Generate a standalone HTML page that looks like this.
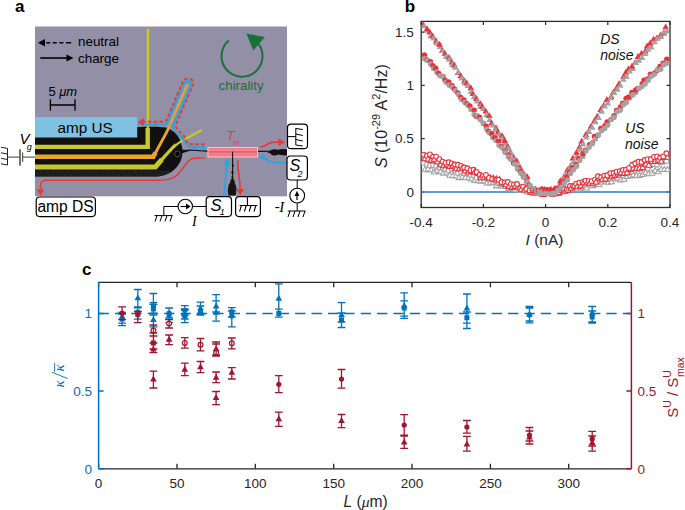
<!DOCTYPE html>
<html><head><meta charset="utf-8"><style>
html,body{margin:0;padding:0;background:#fff;}
svg{display:block;font-family:"Liberation Sans",sans-serif;}
</style></head><body>
<svg width="685" height="510" viewBox="0 0 685 510">
<text x="15" y="11.8" font-size="17" font-weight="bold">a</text>
<rect x="35" y="26.5" width="252" height="169.8" fill="#938fa6"/>
<clipPath id="mesa"><path d="M35,127 L137,127 C150,126.4 160,126.5 166,127.6 C172,129.5 177,134 179.5,139 C182,144 182.8,150 182.4,154 C181.8,160 179,165 175.5,168.5 C171,172.8 165,175.8 158,176.4 L35,176.5 Z"/></clipPath>
<path d="M35,127 L137,127 C150,126.4 160,126.5 166,127.6 C172,129.5 177,134 179.5,139 C182,144 182.8,150 182.4,154 C181.8,160 179,165 175.5,168.5 C171,172.8 165,175.8 158,176.4 L35,176.5 Z" fill="#101010"/>
<g clip-path="url(#mesa)"><rect x="35" y="170.6" width="150" height="6" fill="#1c1c1c"/><path d="M35,172 L170,172 M37,174.5 L170,174.5" stroke="#3c3c3c" stroke-width="0.7" stroke-dasharray="1.5,3.5,1,5"/></g>
<path d="M181,150.8 L190,150 L207,151.2 L258,151.4 L287,151" stroke="#111" stroke-width="1.2" fill="none"/>
<path d="M181,149.5 L191,150.6 L181,153.5 Z" fill="#111"/>
<circle cx="177.5" cy="153.9" r="2.9" fill="#050505" stroke="#555" stroke-width="0.9"/>
<ellipse cx="274.6" cy="152.3" rx="4.6" ry="3.1" fill="#111"/><path d="M267,152.2 L270,151.4 L270,153.2 Z" fill="#111"/><path d="M278.4,149.6 L283,149.1 L287,149.2 L287,155.4 L283,155.3 L278.4,154.8 Z" fill="#111"/>
<path d="M232.6,152 L232.6,185" stroke="#111" stroke-width="1.1" fill="none"/>
<path d="M228.4,195.6 L227.8,190 L228.6,185 L230.2,182.5 L230.6,180 L232.6,177.5 L234.4,180.5 L235.2,184 L236.4,187.5 L236.2,192 L235.6,195.6 Z" fill="#151515"/>
<circle cx="232.9" cy="165.7" r="1.1" fill="#111"/><circle cx="232.5" cy="172.5" r="1.2" fill="#111"/><circle cx="232.4" cy="177" r="1" fill="#111"/>
<path d="M147.9,28.8 L147.9,128" stroke="#cbc820" stroke-width="2.4" fill="none"/>
<path d="M35,146.9 L147.7,146.9 L147.7,128" stroke="#c9c82c" stroke-width="4.4" fill="none"/>
<path d="M187.4,84.4 L166.8,131.8 L154.3,155 L153.3,156.8 L35,156.8" stroke="#eba426" stroke-width="2.1" fill="none" stroke-linejoin="round"/>
<path d="M169,127 L166.8,131.8 L154.3,155" stroke="#eba426" stroke-width="2.8" fill="none" stroke-linejoin="round"/>
<path d="M155.5,152.5 L153.3,156.8 L35,156.8" stroke="#eba426" stroke-width="4.6" fill="none"/>
<path d="M201.6,130 L190,136.5 C182,140 176,144 168.8,151.8 L155.3,166.9 L35,166.9" stroke="#c7c72a" stroke-width="2.4" fill="none" stroke-linejoin="round"/>
<path d="M176,144.5 C173,147 171,149.3 168.8,151.8 L155.3,166.9" stroke="#c7c72a" stroke-width="3.2" fill="none"/>
<path d="M162,159.4 L155.3,166.9 L35,166.9" stroke="#c7c72a" stroke-width="5" fill="none"/>
<rect x="35" y="117" width="102.2" height="20.5" fill="#7fc1e3"/>
<text x="57.5" y="132.8" font-size="15.3">amp US</text>
<rect x="207.5" y="147" width="50.5" height="10.5" fill="#f8cacc"/>
<rect x="208.5" y="148" width="48.5" height="8.5" fill="#f1727e"/>
<path d="M208.5,149.3 L257,149.3 M208.5,150.6 L257,150.6 M208.5,153.3 L257,153.3 M208.5,155.2 L257,155.2" stroke="#f6a6ad" stroke-width="0.7" stroke-dasharray="1.2,0.8"/>
<path d="M208.5,151.9 L257,151.9" stroke="#c85a68" stroke-width="0.8"/>
<path d="M232.6,151.6 L232.6,158" stroke="#111" stroke-width="1"/>
<text x="226.4" y="139.8" font-size="13.5" font-style="italic" fill="#e53b35">T</text>
<text x="232.9" y="145" font-size="7.8" font-style="italic" fill="#e53b35">m</text>
<path d="M138.5,124.7 L164,124.7 C166,124.7 167,123.5 168,121.5 L183.5,84 C184.5,81 188,80.5 190,82 C191.5,83 191.5,84.5 191,86 L173.5,125 C172.5,127.5 173.5,129.5 176,132 L183,138.5 C185,141 185.5,144 188,146 C190,147.3 193,147.3 197,147.3 L202,147.3" stroke="#2ea3e0" stroke-width="2.2" fill="none"/>
<path d="M201,143.6 L206.6,147.3 L201,151 Z" fill="#2ea3e0"/>
<path d="M142,121.8 L164.5,121.8 C166,121.8 166.5,120.5 167,119 L182.8,81.5 C183.8,79 186.5,78.3 189.5,78.8 C192.5,79.5 193.8,81.5 193.3,84 L176,124.5 C175.3,126.5 176,128 178,130 L184,136 C186,138.5 186.2,142 188,143.5 C189.5,144.4 193,144.3 206,144.3" stroke="#e53b35" stroke-width="1.9" stroke-dasharray="3.6,2.2" fill="none"/>
<path d="M137.6,122 L144,118.3 L144,125.7 Z" fill="#e53b35"/>
<path d="M204.7,158 C196,158 192,158 189,160.5 C185,164 181,172 176,176 C172,179 168,180.2 160,180.2 L46,180.2 C42,180.2 40.5,182 40.5,186 L40.5,190" stroke="#e53b35" stroke-width="1.5" fill="none"/>
<path d="M36.8,189.5 L44.2,189.5 L40.5,196 Z" fill="#e53b35"/>
<path d="M224.4,195.5 C224.4,180 226.9,176 226.9,163" stroke="#2ea3e0" stroke-width="1.8" fill="none"/>
<path d="M223.2,164.5 L227,158.2 L230.8,164.5 Z" fill="#2ea3e0"/>
<path d="M237.8,160 C237.8,176 240.2,178 240.2,190" stroke="#e53b35" stroke-width="1.6" fill="none"/>
<path d="M236.1,189 L244.1,189 L240.1,195.6 Z" fill="#e53b35"/>
<path d="M260.2,147 C264,146.5 266,145.5 269,143.5 C271.5,142 274,142 279.5,142.2" stroke="#e53b35" stroke-width="1.6" fill="none"/>
<path d="M278.4,138.6 L285.2,142.2 L278.4,146.2 Z" fill="#e53b35"/>
<path d="M287,162.5 L274,162.5 C270,162.5 267,160 264,157.5" stroke="#2ea3e0" stroke-width="1.8" fill="none"/>
<path d="M258,157.2 L264.5,153.8 L264.5,160.6 Z" fill="#2ea3e0"/>
<path d="M38,42.7 L45,39 L45,46.4 Z" fill="#000"/>
<path d="M46.2,42.7 L71.2,42.7" stroke="#000" stroke-width="1.6" stroke-dasharray="4,2.6,4,2.6,4,2.6,5.2,9"/>
<path d="M40.3,58 L67,58" stroke="#000" stroke-width="1.6"/>
<path d="M66.5,54.4 L73.5,58 L66.5,61.6 Z" fill="#000"/>
<text x="78" y="46" font-size="13.4">neutral</text>
<text x="78" y="62.6" font-size="13.4">charge</text>
<text x="48.4" y="95.7" font-size="13">5 <tspan font-style="italic">μm</tspan></text>
<path d="M50.4,99.3 L50.4,110.7 M75,99.3 L75,110.7 M50.4,105 L75,105" stroke="#000" stroke-width="1.3" fill="none"/>
<path d="M228.8,40.5 A20.5,20.5 0 1 0 257,42.2" stroke="#177239" stroke-width="2" fill="none"/>
<path d="M246.4,33.6 L264.8,37 L253.3,50.6 Z" fill="#177239"/>
<text x="218.6" y="89.5" font-size="13.3" fill="#177239">chirality</text>
<path d="M7.5,157.1 L19.8,157.1 M22.6,157.1 L35,157.1" stroke="#666" stroke-width="1.2"/>
<path d="M20,149.2 L20,165.7" stroke="#666" stroke-width="1.8"/>
<path d="M22.6,152.4 L22.6,161.8" stroke="#555" stroke-width="1.2"/>
<path d="M7.5,148.4 L7.5,165 M7.5,148.4 L1,147.2 M7.5,154 L1,152.8 M7.5,159.5 L1,158.3 M7.5,165 L1,163.8" stroke="#222" stroke-width="1" fill="none"/>
<text x="19.6" y="144.1" font-size="15" font-style="italic">V</text>
<text x="26.8" y="149.5" font-size="9" font-style="italic">g</text>
<rect x="36.2" y="197" width="59.2" height="19.6" rx="3.5" fill="#fff" stroke="#000" stroke-width="1.2"/>
<text x="37.4" y="212" font-size="15.6">amp DS</text>
<path d="M192.5,206.5 L206.2,206.5 M178,206.5 L163.8,206.5 L163.8,215.6 M154.5,215.6 L172.5,215.6" stroke="#000" stroke-width="1" fill="none"/>
<path d="M157,215.6 L155,221.5 M162,215.6 L160,221.5 M167,215.6 L165,221.5 M172,215.6 L170,221.5" stroke="#000" stroke-width="1" fill="none"/>
<circle cx="185.3" cy="206.5" r="7.2" fill="#fff" stroke="#000" stroke-width="1.1"/>
<path d="M180.5,206.5 L187,206.5" stroke="#000" stroke-width="1.1"/><path d="M186,203.6 L190.6,206.5 L186,209.4 Z" fill="#000"/>
<text x="192" y="225.6" font-size="14" font-style="italic" font-family="Liberation Serif">I</text>
<rect x="206.2" y="196.6" width="25.3" height="20" rx="3.5" fill="#fff" stroke="#000" stroke-width="1.2"/>
<text x="210.4" y="210.5" font-size="16.5" font-style="italic">S</text>
<text x="219.8" y="214.6" font-size="9" font-style="italic">1</text>
<rect x="235.6" y="196.6" width="24.8" height="20" rx="3.5" fill="#fff" stroke="#000" stroke-width="1.2"/>
<path d="M247.4,196.6 L247.4,205.5 M239.6,205.5 L257.4,205.5 M241.4,205.5 L239.6,211.6 M246.2,205.5 L244.4,211.6 M251,205.5 L249.2,211.6 M255.8,205.5 L254,211.6" stroke="#000" stroke-width="1.1" fill="none"/>
<rect x="287.5" y="124.2" width="20" height="24.5" rx="3.5" fill="#fff" stroke="#000" stroke-width="1.2"/>
<path d="M287.5,136.6 L295.8,136.6 M295.8,128.3 L295.8,145 M295.8,128.5 L302.8,129.5 M295.8,134 L302.8,135.5 M295.8,139.5 L302.8,141 M295.8,145 L302.8,146" stroke="#000" stroke-width="1" fill="none"/>
<rect x="287" y="156" width="20.4" height="24" rx="3.5" fill="#fff" stroke="#000" stroke-width="1.2"/>
<text x="289.4" y="171.1" font-size="16.2" font-style="italic">S</text>
<text x="297.4" y="176.8" font-size="9" font-style="italic">2</text>
<path d="M297.2,180 L297.2,188 M297.2,203.2 L297.2,211 M287.7,211 L305.6,211" stroke="#000" stroke-width="1" fill="none"/>
<path d="M290,211 L288,217 M295,211 L293,217 M300,211 L298,217 M305,211 L303,217" stroke="#000" stroke-width="1" fill="none"/>
<circle cx="297.2" cy="195.6" r="7.4" fill="#fff" stroke="#000" stroke-width="1.1"/>
<path d="M297,200 L297,195" stroke="#000" stroke-width="1.2"/><path d="M294.6,196 L297,190.8 L299.4,196 Z" fill="#000"/>
<text x="274.8" y="211.8" font-size="15" font-family="Liberation Serif"><tspan dy="-1.2">-</tspan><tspan dy="1.2" dx="-0.5" font-style="italic">I</tspan></text>
<text x="404.7" y="11.8" font-size="17" font-weight="bold">b</text>
<rect x="421.2" y="21.4" width="248.8" height="186.1" fill="none" stroke="#2b2b2b" stroke-width="1.3"/>
<path d="M421.2,207.5 L421.2,204.0 M421.2,21.4 L421.2,24.9 M483.4,207.5 L483.4,204.0 M483.4,21.4 L483.4,24.9 M545.6,207.5 L545.6,204.0 M545.6,21.4 L545.6,24.9 M607.8,207.5 L607.8,204.0 M607.8,21.4 L607.8,24.9 M670.0,207.5 L670.0,204.0 M670.0,21.4 L670.0,24.9 M421.2,192.0 L424.7,192.0 M670.0,192.0 L666.5,192.0 M421.2,138.7 L424.7,138.7 M670.0,138.7 L666.5,138.7 M421.2,85.4 L424.7,85.4 M670.0,85.4 L666.5,85.4 M421.2,32.1 L424.7,32.1 M670.0,32.1 L666.5,32.1" stroke="#2b2b2b" stroke-width="1.2" fill="none"/>
<path d="M421.2,192 L670.0,192" stroke="#3672c4" stroke-width="1.5"/>
<defs><path id="tf" d="M0,-3.6 L3.3,2.3 L-3.3,2.3 Z"/><circle id="cf" r="2.7"/><path id="to" d="M0,-3.1 L2.9,2 L-2.9,2 Z"/><circle id="co" r="2.4"/></defs>
<clipPath id="bclip"><rect x="421.2" y="21.4" width="248.8" height="186.1"/></clipPath><g clip-path="url(#bclip)">
<g fill="#fff" stroke="#a3a3a3" stroke-width="1.1"><use href="#to" x="424.9" y="169.7"/><use href="#co" x="423.8" y="162.9"/><use href="#co" x="426.9" y="164.6"/><use href="#to" x="428.0" y="169.1"/><use href="#co" x="430.0" y="165.5"/><use href="#to" x="431.1" y="169.9"/><use href="#co" x="433.1" y="165.1"/><use href="#to" x="434.2" y="172.0"/><use href="#co" x="436.2" y="166.0"/><use href="#to" x="437.4" y="170.3"/><use href="#to" x="440.5" y="171.6"/><use href="#co" x="439.4" y="167.5"/><use href="#to" x="443.6" y="173.1"/><use href="#co" x="442.5" y="167.2"/><use href="#co" x="445.6" y="169.7"/><use href="#to" x="446.7" y="172.3"/><use href="#co" x="448.7" y="170.3"/><use href="#to" x="449.8" y="175.3"/><use href="#to" x="452.9" y="175.8"/><use href="#co" x="451.8" y="169.0"/><use href="#to" x="456.0" y="175.9"/><use href="#co" x="454.9" y="170.4"/><use href="#co" x="458.0" y="173.1"/><use href="#to" x="459.1" y="177.6"/><use href="#co" x="461.1" y="171.9"/><use href="#to" x="462.2" y="177.1"/><use href="#co" x="464.2" y="173.1"/><use href="#to" x="465.3" y="177.8"/><use href="#co" x="467.4" y="173.2"/><use href="#to" x="468.5" y="177.7"/><use href="#to" x="471.6" y="178.9"/><use href="#co" x="470.5" y="174.8"/><use href="#to" x="474.7" y="180.4"/><use href="#co" x="473.6" y="175.1"/><use href="#to" x="477.8" y="180.6"/><use href="#co" x="476.7" y="177.9"/><use href="#co" x="479.8" y="178.6"/><use href="#to" x="480.9" y="181.1"/><use href="#to" x="484.0" y="180.9"/><use href="#co" x="482.9" y="177.8"/><use href="#to" x="487.1" y="183.0"/><use href="#co" x="486.0" y="178.0"/><use href="#co" x="489.1" y="179.7"/><use href="#to" x="490.2" y="182.9"/><use href="#co" x="492.2" y="179.8"/><use href="#to" x="493.3" y="182.4"/><use href="#to" x="496.4" y="185.9"/><use href="#co" x="495.3" y="181.1"/><use href="#to" x="499.6" y="183.6"/><use href="#co" x="498.5" y="182.0"/><use href="#to" x="502.7" y="186.2"/><use href="#co" x="501.6" y="184.0"/><use href="#co" x="504.7" y="185.6"/><use href="#to" x="505.8" y="186.6"/><use href="#to" x="508.9" y="188.6"/><use href="#co" x="507.8" y="186.1"/><use href="#co" x="510.9" y="186.9"/><use href="#to" x="512.0" y="188.6"/><use href="#co" x="514.0" y="185.3"/><use href="#to" x="515.1" y="189.8"/><use href="#to" x="518.2" y="187.9"/><use href="#co" x="517.1" y="187.1"/><use href="#co" x="520.2" y="186.8"/><use href="#to" x="521.3" y="190.4"/><use href="#to" x="524.4" y="189.1"/><use href="#co" x="523.3" y="189.2"/><use href="#co" x="526.4" y="190.6"/><use href="#to" x="527.5" y="191.9"/><use href="#to" x="530.7" y="191.5"/><use href="#co" x="529.6" y="191.0"/><use href="#co" x="532.7" y="191.5"/><use href="#to" x="533.8" y="193.5"/><use href="#to" x="536.9" y="192.1"/><use href="#co" x="535.8" y="191.6"/><use href="#to" x="540.0" y="192.7"/><use href="#co" x="538.9" y="191.0"/><use href="#to" x="543.1" y="194.3"/><use href="#co" x="542.0" y="191.3"/><use href="#to" x="546.2" y="191.8"/><use href="#co" x="545.1" y="191.1"/><use href="#co" x="548.2" y="192.3"/><use href="#to" x="549.3" y="193.2"/><use href="#co" x="551.3" y="191.2"/><use href="#to" x="552.4" y="194.1"/><use href="#co" x="554.4" y="192.2"/><use href="#to" x="555.5" y="193.4"/><use href="#co" x="557.5" y="192.1"/><use href="#to" x="558.6" y="193.5"/><use href="#co" x="560.6" y="191.4"/><use href="#to" x="561.8" y="191.9"/><use href="#co" x="563.8" y="188.2"/><use href="#to" x="564.9" y="190.5"/><use href="#co" x="566.9" y="189.5"/><use href="#to" x="568.0" y="190.8"/><use href="#to" x="571.1" y="188.6"/><use href="#co" x="570.0" y="189.2"/><use href="#co" x="573.1" y="187.4"/><use href="#to" x="574.2" y="189.1"/><use href="#co" x="576.2" y="187.8"/><use href="#to" x="577.3" y="189.0"/><use href="#co" x="579.3" y="184.7"/><use href="#to" x="580.4" y="188.9"/><use href="#co" x="582.4" y="183.5"/><use href="#to" x="583.5" y="187.1"/><use href="#to" x="586.6" y="188.0"/><use href="#co" x="585.5" y="184.0"/><use href="#to" x="589.7" y="184.7"/><use href="#co" x="588.6" y="181.8"/><use href="#co" x="591.8" y="183.2"/><use href="#to" x="592.9" y="185.6"/><use href="#to" x="596.0" y="184.4"/><use href="#co" x="594.9" y="180.8"/><use href="#to" x="599.1" y="184.7"/><use href="#co" x="598.0" y="181.4"/><use href="#to" x="602.2" y="182.0"/><use href="#co" x="601.1" y="178.5"/><use href="#co" x="604.2" y="178.2"/><use href="#to" x="605.3" y="181.7"/><use href="#co" x="607.3" y="178.3"/><use href="#to" x="608.4" y="182.2"/><use href="#co" x="610.4" y="179.0"/><use href="#to" x="611.5" y="181.8"/><use href="#co" x="613.5" y="176.1"/><use href="#to" x="614.6" y="178.9"/><use href="#to" x="617.7" y="178.1"/><use href="#co" x="616.6" y="174.5"/><use href="#co" x="619.7" y="175.4"/><use href="#to" x="620.8" y="179.9"/><use href="#to" x="624.0" y="179.2"/><use href="#co" x="622.9" y="175.1"/><use href="#co" x="626.0" y="172.1"/><use href="#to" x="627.1" y="176.5"/><use href="#co" x="629.1" y="172.0"/><use href="#to" x="630.2" y="175.9"/><use href="#to" x="633.3" y="174.9"/><use href="#co" x="632.2" y="171.1"/><use href="#co" x="635.3" y="170.0"/><use href="#to" x="636.4" y="175.6"/><use href="#to" x="639.5" y="175.4"/><use href="#co" x="638.4" y="169.0"/><use href="#co" x="641.5" y="167.6"/><use href="#to" x="642.6" y="174.5"/><use href="#co" x="644.6" y="166.9"/><use href="#to" x="645.7" y="172.7"/><use href="#to" x="648.8" y="173.8"/><use href="#co" x="647.7" y="168.6"/><use href="#to" x="651.9" y="173.2"/><use href="#co" x="650.8" y="165.6"/><use href="#co" x="654.0" y="164.2"/><use href="#to" x="655.1" y="170.8"/><use href="#co" x="657.1" y="164.7"/><use href="#to" x="658.2" y="171.8"/><use href="#to" x="661.3" y="169.5"/><use href="#co" x="660.2" y="162.5"/><use href="#to" x="664.4" y="169.5"/><use href="#co" x="663.3" y="161.8"/><use href="#co" x="666.4" y="161.3"/><use href="#to" x="667.5" y="169.5"/></g>
<g fill="#fff" stroke="#e8333b" stroke-width="1.1"><use href="#to" x="424.9" y="158.8"/><use href="#co" x="423.8" y="154.6"/><use href="#co" x="426.9" y="155.8"/><use href="#to" x="428.0" y="159.1"/><use href="#co" x="430.0" y="154.4"/><use href="#to" x="431.1" y="160.4"/><use href="#co" x="433.1" y="156.8"/><use href="#to" x="434.2" y="159.3"/><use href="#to" x="437.4" y="161.8"/><use href="#co" x="436.2" y="156.6"/><use href="#co" x="439.4" y="159.2"/><use href="#to" x="440.5" y="164.7"/><use href="#to" x="443.6" y="165.7"/><use href="#co" x="442.5" y="161.6"/><use href="#to" x="446.7" y="164.9"/><use href="#co" x="445.6" y="162.7"/><use href="#to" x="449.8" y="166.5"/><use href="#co" x="448.7" y="162.3"/><use href="#co" x="451.8" y="163.4"/><use href="#to" x="452.9" y="165.7"/><use href="#co" x="454.9" y="164.5"/><use href="#to" x="456.0" y="168.8"/><use href="#to" x="459.1" y="168.8"/><use href="#co" x="458.0" y="164.8"/><use href="#co" x="461.1" y="165.9"/><use href="#to" x="462.2" y="168.3"/><use href="#to" x="465.3" y="170.8"/><use href="#co" x="464.2" y="167.5"/><use href="#to" x="468.5" y="172.0"/><use href="#co" x="467.4" y="168.3"/><use href="#to" x="471.6" y="171.1"/><use href="#co" x="470.5" y="170.2"/><use href="#co" x="473.6" y="169.8"/><use href="#to" x="474.7" y="172.1"/><use href="#to" x="477.8" y="173.1"/><use href="#co" x="476.7" y="172.1"/><use href="#co" x="479.8" y="174.8"/><use href="#to" x="480.9" y="177.3"/><use href="#co" x="482.9" y="176.1"/><use href="#to" x="484.0" y="177.8"/><use href="#to" x="487.1" y="176.7"/><use href="#co" x="486.0" y="174.9"/><use href="#to" x="490.2" y="177.9"/><use href="#co" x="489.1" y="177.9"/><use href="#to" x="493.3" y="178.3"/><use href="#co" x="492.2" y="179.0"/><use href="#co" x="495.3" y="179.8"/><use href="#to" x="496.4" y="179.0"/><use href="#to" x="499.6" y="179.8"/><use href="#co" x="498.5" y="179.8"/><use href="#to" x="502.7" y="182.9"/><use href="#co" x="501.6" y="182.1"/><use href="#co" x="504.7" y="182.5"/><use href="#to" x="505.8" y="184.8"/><use href="#to" x="508.9" y="186.4"/><use href="#co" x="507.8" y="182.0"/><use href="#co" x="510.9" y="184.1"/><use href="#to" x="512.0" y="187.4"/><use href="#co" x="514.0" y="184.4"/><use href="#to" x="515.1" y="186.4"/><use href="#to" x="518.2" y="186.3"/><use href="#co" x="517.1" y="184.0"/><use href="#co" x="520.2" y="188.4"/><use href="#to" x="521.3" y="189.2"/><use href="#co" x="523.3" y="186.7"/><use href="#to" x="524.4" y="190.0"/><use href="#to" x="527.5" y="188.4"/><use href="#co" x="526.4" y="189.0"/><use href="#to" x="530.7" y="192.1"/><use href="#co" x="529.6" y="190.5"/><use href="#co" x="532.7" y="190.1"/><use href="#to" x="533.8" y="190.7"/><use href="#co" x="535.8" y="192.7"/><use href="#to" x="536.9" y="191.4"/><use href="#to" x="540.0" y="190.9"/><use href="#co" x="538.9" y="193.2"/><use href="#to" x="543.1" y="194.5"/><use href="#co" x="542.0" y="190.7"/><use href="#co" x="545.1" y="193.7"/><use href="#to" x="546.2" y="191.6"/><use href="#to" x="549.3" y="192.7"/><use href="#co" x="548.2" y="192.5"/><use href="#to" x="552.4" y="194.0"/><use href="#co" x="551.3" y="192.4"/><use href="#co" x="554.4" y="192.0"/><use href="#to" x="555.5" y="193.6"/><use href="#co" x="557.5" y="192.1"/><use href="#to" x="558.6" y="192.6"/><use href="#co" x="560.6" y="190.3"/><use href="#to" x="561.8" y="189.7"/><use href="#co" x="563.8" y="188.7"/><use href="#to" x="564.9" y="191.2"/><use href="#co" x="566.9" y="189.7"/><use href="#to" x="568.0" y="190.1"/><use href="#co" x="570.0" y="186.0"/><use href="#to" x="571.1" y="188.1"/><use href="#co" x="573.1" y="186.0"/><use href="#to" x="574.2" y="185.7"/><use href="#co" x="576.2" y="183.7"/><use href="#to" x="577.3" y="186.7"/><use href="#to" x="580.4" y="185.9"/><use href="#co" x="579.3" y="182.6"/><use href="#co" x="582.4" y="182.1"/><use href="#to" x="583.5" y="182.7"/><use href="#to" x="586.6" y="182.8"/><use href="#co" x="585.5" y="180.6"/><use href="#co" x="588.6" y="181.2"/><use href="#to" x="589.7" y="183.2"/><use href="#to" x="592.9" y="183.3"/><use href="#co" x="591.8" y="181.2"/><use href="#co" x="594.9" y="179.6"/><use href="#to" x="596.0" y="182.0"/><use href="#to" x="599.1" y="178.3"/><use href="#co" x="598.0" y="176.3"/><use href="#co" x="601.1" y="177.4"/><use href="#to" x="602.2" y="179.8"/><use href="#co" x="604.2" y="175.7"/><use href="#to" x="605.3" y="179.1"/><use href="#to" x="608.4" y="175.0"/><use href="#co" x="607.3" y="175.3"/><use href="#to" x="611.5" y="176.8"/><use href="#co" x="610.4" y="173.2"/><use href="#co" x="613.5" y="173.0"/><use href="#to" x="614.6" y="175.4"/><use href="#to" x="617.7" y="173.9"/><use href="#co" x="616.6" y="171.7"/><use href="#co" x="619.7" y="171.3"/><use href="#to" x="620.8" y="172.8"/><use href="#co" x="622.9" y="170.0"/><use href="#to" x="624.0" y="173.4"/><use href="#co" x="626.0" y="169.7"/><use href="#to" x="627.1" y="172.7"/><use href="#to" x="630.2" y="169.5"/><use href="#co" x="629.1" y="167.9"/><use href="#to" x="633.3" y="168.2"/><use href="#co" x="632.2" y="164.8"/><use href="#co" x="635.3" y="163.3"/><use href="#to" x="636.4" y="168.3"/><use href="#to" x="639.5" y="168.2"/><use href="#co" x="638.4" y="161.8"/><use href="#to" x="642.6" y="167.6"/><use href="#co" x="641.5" y="162.0"/><use href="#to" x="645.7" y="164.3"/><use href="#co" x="644.6" y="160.0"/><use href="#to" x="648.8" y="165.2"/><use href="#co" x="647.7" y="159.2"/><use href="#to" x="651.9" y="161.5"/><use href="#co" x="650.8" y="159.3"/><use href="#to" x="655.1" y="161.5"/><use href="#co" x="654.0" y="156.9"/><use href="#co" x="657.1" y="156.4"/><use href="#to" x="658.2" y="160.1"/><use href="#co" x="660.2" y="157.8"/><use href="#to" x="661.3" y="161.2"/><use href="#to" x="664.4" y="157.5"/><use href="#co" x="663.3" y="156.4"/><use href="#to" x="667.5" y="157.3"/><use href="#co" x="666.4" y="153.3"/></g>
<use href="#tf" x="423.1" y="24.9" fill="#e8333b"/><use href="#tf" x="424.3" y="26.0" fill="#a3a3a3"/><use href="#tf" x="427.4" y="30.4" fill="#a3a3a3"/><use href="#tf" x="427.0" y="28.9" fill="#e8333b"/><use href="#tf" x="429.7" y="32.1" fill="#e8333b"/><use href="#tf" x="430.5" y="36.0" fill="#a3a3a3"/><use href="#tf" x="432.7" y="36.2" fill="#e8333b"/><use href="#tf" x="433.6" y="38.3" fill="#a3a3a3"/><use href="#tf" x="436.1" y="41.2" fill="#e8333b"/><use href="#tf" x="436.8" y="43.1" fill="#a3a3a3"/><use href="#tf" x="439.9" y="46.8" fill="#a3a3a3"/><use href="#tf" x="439.6" y="44.4" fill="#e8333b"/><use href="#tf" x="442.2" y="50.7" fill="#e8333b"/><use href="#tf" x="443.0" y="50.8" fill="#a3a3a3"/><use href="#tf" x="444.9" y="53.5" fill="#e8333b"/><use href="#tf" x="446.1" y="56.8" fill="#a3a3a3"/><use href="#tf" x="449.0" y="57.5" fill="#e8333b"/><use href="#tf" x="449.2" y="59.5" fill="#a3a3a3"/><use href="#tf" x="451.8" y="62.3" fill="#e8333b"/><use href="#tf" x="452.3" y="64.4" fill="#a3a3a3"/><use href="#tf" x="454.5" y="65.4" fill="#e8333b"/><use href="#tf" x="455.4" y="67.4" fill="#a3a3a3"/><use href="#tf" x="458.0" y="72.8" fill="#e8333b"/><use href="#tf" x="458.5" y="72.2" fill="#a3a3a3"/><use href="#tf" x="460.8" y="75.8" fill="#e8333b"/><use href="#tf" x="461.6" y="78.3" fill="#a3a3a3"/><use href="#tf" x="464.4" y="81.1" fill="#e8333b"/><use href="#tf" x="464.7" y="82.9" fill="#a3a3a3"/><use href="#tf" x="466.8" y="83.1" fill="#e8333b"/><use href="#tf" x="467.9" y="85.7" fill="#a3a3a3"/><use href="#tf" x="470.8" y="87.9" fill="#e8333b"/><use href="#tf" x="471.0" y="91.8" fill="#a3a3a3"/><use href="#tf" x="472.9" y="93.8" fill="#e8333b"/><use href="#tf" x="474.1" y="97.0" fill="#a3a3a3"/><use href="#tf" x="476.4" y="98.6" fill="#e8333b"/><use href="#tf" x="477.2" y="101.3" fill="#a3a3a3"/><use href="#tf" x="480.4" y="103.8" fill="#e8333b"/><use href="#tf" x="480.3" y="106.4" fill="#a3a3a3"/><use href="#tf" x="482.4" y="106.7" fill="#e8333b"/><use href="#tf" x="483.4" y="108.6" fill="#a3a3a3"/><use href="#tf" x="485.7" y="111.3" fill="#e8333b"/><use href="#tf" x="486.5" y="114.9" fill="#a3a3a3"/><use href="#tf" x="489.3" y="115.8" fill="#e8333b"/><use href="#tf" x="489.6" y="119.7" fill="#a3a3a3"/><use href="#tf" x="491.6" y="123.1" fill="#e8333b"/><use href="#tf" x="492.7" y="125.3" fill="#a3a3a3"/><use href="#tf" x="496.0" y="128.0" fill="#e8333b"/><use href="#tf" x="495.8" y="129.8" fill="#a3a3a3"/><use href="#tf" x="498.0" y="132.1" fill="#e8333b"/><use href="#tf" x="499.0" y="134.4" fill="#a3a3a3"/><use href="#tf" x="502.1" y="135.8" fill="#e8333b"/><use href="#tf" x="502.1" y="138.7" fill="#a3a3a3"/><use href="#tf" x="505.2" y="143.5" fill="#a3a3a3"/><use href="#tf" x="504.8" y="140.7" fill="#e8333b"/><use href="#tf" x="507.8" y="146.4" fill="#e8333b"/><use href="#tf" x="508.3" y="148.4" fill="#a3a3a3"/><use href="#tf" x="510.3" y="153.0" fill="#e8333b"/><use href="#tf" x="511.4" y="153.1" fill="#a3a3a3"/><use href="#tf" x="513.8" y="157.5" fill="#e8333b"/><use href="#tf" x="514.5" y="159.9" fill="#a3a3a3"/><use href="#tf" x="516.8" y="161.0" fill="#e8333b"/><use href="#tf" x="517.6" y="164.1" fill="#a3a3a3"/><use href="#tf" x="520.1" y="167.6" fill="#e8333b"/><use href="#tf" x="520.7" y="170.6" fill="#a3a3a3"/><use href="#tf" x="524.0" y="174.0" fill="#e8333b"/><use href="#tf" x="523.8" y="174.9" fill="#a3a3a3"/><use href="#tf" x="527.2" y="176.8" fill="#e8333b"/><use href="#tf" x="526.9" y="180.3" fill="#a3a3a3"/><use href="#tf" x="529.0" y="184.4" fill="#e8333b"/><use href="#tf" x="530.1" y="185.7" fill="#a3a3a3"/><use href="#tf" x="532.3" y="188.8" fill="#e8333b"/><use href="#tf" x="533.2" y="189.6" fill="#a3a3a3"/><use href="#tf" x="535.7" y="189.2" fill="#e8333b"/><use href="#tf" x="536.3" y="192.1" fill="#a3a3a3"/><use href="#tf" x="538.7" y="190.9" fill="#e8333b"/><use href="#tf" x="539.4" y="193.6" fill="#a3a3a3"/><use href="#tf" x="541.5" y="189.1" fill="#e8333b"/><use href="#tf" x="542.5" y="192.6" fill="#a3a3a3"/><use href="#tf" x="544.7" y="189.6" fill="#e8333b"/><use href="#tf" x="545.6" y="193.3" fill="#a3a3a3"/><use href="#tf" x="548.2" y="191.1" fill="#e8333b"/><use href="#tf" x="548.7" y="191.4" fill="#a3a3a3"/><use href="#tf" x="550.7" y="189.3" fill="#e8333b"/><use href="#tf" x="551.8" y="193.7" fill="#a3a3a3"/><use href="#tf" x="554.9" y="191.8" fill="#a3a3a3"/><use href="#tf" x="554.4" y="188.8" fill="#e8333b"/><use href="#tf" x="558.2" y="188.3" fill="#e8333b"/><use href="#tf" x="558.0" y="188.9" fill="#a3a3a3"/><use href="#tf" x="560.3" y="180.9" fill="#e8333b"/><use href="#tf" x="561.1" y="185.5" fill="#a3a3a3"/><use href="#tf" x="564.1" y="176.5" fill="#e8333b"/><use href="#tf" x="564.3" y="177.3" fill="#a3a3a3"/><use href="#tf" x="567.3" y="170.1" fill="#e8333b"/><use href="#tf" x="567.4" y="172.6" fill="#a3a3a3"/><use href="#tf" x="570.5" y="166.2" fill="#e8333b"/><use href="#tf" x="570.5" y="167.2" fill="#a3a3a3"/><use href="#tf" x="572.8" y="158.3" fill="#e8333b"/><use href="#tf" x="573.6" y="161.7" fill="#a3a3a3"/><use href="#tf" x="576.7" y="155.9" fill="#a3a3a3"/><use href="#tf" x="576.5" y="152.5" fill="#e8333b"/><use href="#tf" x="579.5" y="147.2" fill="#e8333b"/><use href="#tf" x="579.8" y="149.5" fill="#a3a3a3"/><use href="#tf" x="581.7" y="141.4" fill="#e8333b"/><use href="#tf" x="582.9" y="144.2" fill="#a3a3a3"/><use href="#tf" x="585.8" y="134.7" fill="#e8333b"/><use href="#tf" x="586.0" y="137.1" fill="#a3a3a3"/><use href="#tf" x="588.3" y="131.8" fill="#e8333b"/><use href="#tf" x="589.1" y="131.5" fill="#a3a3a3"/><use href="#tf" x="591.1" y="126.3" fill="#e8333b"/><use href="#tf" x="592.2" y="127.5" fill="#a3a3a3"/><use href="#tf" x="594.5" y="120.7" fill="#e8333b"/><use href="#tf" x="595.4" y="121.9" fill="#a3a3a3"/><use href="#tf" x="597.3" y="116.3" fill="#e8333b"/><use href="#tf" x="598.5" y="117.6" fill="#a3a3a3"/><use href="#tf" x="600.7" y="109.7" fill="#e8333b"/><use href="#tf" x="601.6" y="111.4" fill="#a3a3a3"/><use href="#tf" x="603.8" y="105.4" fill="#e8333b"/><use href="#tf" x="604.7" y="106.1" fill="#a3a3a3"/><use href="#tf" x="606.9" y="99.6" fill="#e8333b"/><use href="#tf" x="607.8" y="103.3" fill="#a3a3a3"/><use href="#tf" x="611.1" y="96.7" fill="#e8333b"/><use href="#tf" x="610.9" y="97.9" fill="#a3a3a3"/><use href="#tf" x="613.4" y="92.3" fill="#e8333b"/><use href="#tf" x="614.0" y="92.8" fill="#a3a3a3"/><use href="#tf" x="616.5" y="88.1" fill="#e8333b"/><use href="#tf" x="617.1" y="89.5" fill="#a3a3a3"/><use href="#tf" x="619.1" y="83.7" fill="#e8333b"/><use href="#tf" x="620.2" y="85.5" fill="#a3a3a3"/><use href="#tf" x="623.5" y="76.8" fill="#e8333b"/><use href="#tf" x="623.4" y="79.5" fill="#a3a3a3"/><use href="#tf" x="625.8" y="72.5" fill="#e8333b"/><use href="#tf" x="626.5" y="76.7" fill="#a3a3a3"/><use href="#tf" x="628.4" y="69.1" fill="#e8333b"/><use href="#tf" x="629.6" y="71.3" fill="#a3a3a3"/><use href="#tf" x="632.7" y="68.7" fill="#a3a3a3"/><use href="#tf" x="632.0" y="66.3" fill="#e8333b"/><use href="#tf" x="635.1" y="62.8" fill="#e8333b"/><use href="#tf" x="635.8" y="62.7" fill="#a3a3a3"/><use href="#tf" x="638.0" y="56.6" fill="#e8333b"/><use href="#tf" x="638.9" y="60.5" fill="#a3a3a3"/><use href="#tf" x="641.5" y="53.4" fill="#e8333b"/><use href="#tf" x="642.0" y="57.6" fill="#a3a3a3"/><use href="#tf" x="645.3" y="51.3" fill="#e8333b"/><use href="#tf" x="645.1" y="53.6" fill="#a3a3a3"/><use href="#tf" x="647.1" y="46.1" fill="#e8333b"/><use href="#tf" x="648.2" y="49.5" fill="#a3a3a3"/><use href="#tf" x="651.3" y="47.1" fill="#a3a3a3"/><use href="#tf" x="650.2" y="43.1" fill="#e8333b"/><use href="#tf" x="653.6" y="39.3" fill="#e8333b"/><use href="#tf" x="654.5" y="42.0" fill="#a3a3a3"/><use href="#tf" x="656.8" y="38.1" fill="#e8333b"/><use href="#tf" x="657.6" y="38.2" fill="#a3a3a3"/><use href="#tf" x="660.5" y="35.2" fill="#e8333b"/><use href="#tf" x="660.7" y="36.8" fill="#a3a3a3"/><use href="#tf" x="663.7" y="33.1" fill="#e8333b"/><use href="#tf" x="663.8" y="32.2" fill="#a3a3a3"/><use href="#tf" x="665.7" y="27.0" fill="#e8333b"/><use href="#tf" x="666.9" y="31.1" fill="#a3a3a3"/><use href="#cf" x="424.5" y="55.0" fill="#e8333b"/><use href="#cf" x="424.3" y="58.7" fill="#a3a3a3"/><use href="#cf" x="427.0" y="59.9" fill="#e8333b"/><use href="#cf" x="427.4" y="60.4" fill="#a3a3a3"/><use href="#cf" x="430.4" y="61.8" fill="#e8333b"/><use href="#cf" x="430.5" y="63.9" fill="#a3a3a3"/><use href="#cf" x="432.9" y="65.7" fill="#e8333b"/><use href="#cf" x="433.6" y="68.4" fill="#a3a3a3"/><use href="#cf" x="435.7" y="68.3" fill="#e8333b"/><use href="#cf" x="436.8" y="72.0" fill="#a3a3a3"/><use href="#cf" x="438.8" y="73.4" fill="#e8333b"/><use href="#cf" x="439.9" y="75.7" fill="#a3a3a3"/><use href="#cf" x="443.2" y="76.5" fill="#e8333b"/><use href="#cf" x="443.0" y="76.8" fill="#a3a3a3"/><use href="#cf" x="445.0" y="80.1" fill="#e8333b"/><use href="#cf" x="446.1" y="82.2" fill="#a3a3a3"/><use href="#cf" x="448.7" y="81.9" fill="#e8333b"/><use href="#cf" x="449.2" y="85.3" fill="#a3a3a3"/><use href="#cf" x="452.1" y="85.7" fill="#e8333b"/><use href="#cf" x="452.3" y="87.3" fill="#a3a3a3"/><use href="#cf" x="454.4" y="89.0" fill="#e8333b"/><use href="#cf" x="455.4" y="90.6" fill="#a3a3a3"/><use href="#cf" x="457.9" y="92.9" fill="#e8333b"/><use href="#cf" x="458.5" y="94.4" fill="#a3a3a3"/><use href="#cf" x="460.8" y="97.5" fill="#e8333b"/><use href="#cf" x="461.6" y="99.5" fill="#a3a3a3"/><use href="#cf" x="464.0" y="100.0" fill="#e8333b"/><use href="#cf" x="464.7" y="102.4" fill="#a3a3a3"/><use href="#cf" x="467.0" y="103.8" fill="#e8333b"/><use href="#cf" x="467.9" y="104.9" fill="#a3a3a3"/><use href="#cf" x="469.9" y="105.9" fill="#e8333b"/><use href="#cf" x="471.0" y="109.5" fill="#a3a3a3"/><use href="#cf" x="474.2" y="110.1" fill="#e8333b"/><use href="#cf" x="474.1" y="114.4" fill="#a3a3a3"/><use href="#cf" x="476.3" y="116.3" fill="#e8333b"/><use href="#cf" x="477.2" y="115.6" fill="#a3a3a3"/><use href="#cf" x="479.6" y="117.3" fill="#e8333b"/><use href="#cf" x="480.3" y="119.7" fill="#a3a3a3"/><use href="#cf" x="483.4" y="123.4" fill="#e8333b"/><use href="#cf" x="483.4" y="123.3" fill="#a3a3a3"/><use href="#cf" x="486.2" y="126.1" fill="#e8333b"/><use href="#cf" x="486.5" y="129.1" fill="#a3a3a3"/><use href="#cf" x="488.7" y="131.5" fill="#e8333b"/><use href="#cf" x="489.6" y="132.9" fill="#a3a3a3"/><use href="#cf" x="491.8" y="133.7" fill="#e8333b"/><use href="#cf" x="492.7" y="137.4" fill="#a3a3a3"/><use href="#cf" x="494.9" y="137.6" fill="#e8333b"/><use href="#cf" x="495.8" y="140.6" fill="#a3a3a3"/><use href="#cf" x="498.6" y="141.2" fill="#e8333b"/><use href="#cf" x="499.0" y="145.3" fill="#a3a3a3"/><use href="#cf" x="501.7" y="146.6" fill="#e8333b"/><use href="#cf" x="502.1" y="147.8" fill="#a3a3a3"/><use href="#cf" x="505.0" y="151.5" fill="#e8333b"/><use href="#cf" x="505.2" y="152.5" fill="#a3a3a3"/><use href="#cf" x="508.5" y="155.1" fill="#e8333b"/><use href="#cf" x="508.3" y="156.8" fill="#a3a3a3"/><use href="#cf" x="510.8" y="159.1" fill="#e8333b"/><use href="#cf" x="511.4" y="159.5" fill="#a3a3a3"/><use href="#cf" x="513.6" y="163.3" fill="#e8333b"/><use href="#cf" x="514.5" y="164.1" fill="#a3a3a3"/><use href="#cf" x="517.8" y="168.7" fill="#e8333b"/><use href="#cf" x="517.6" y="169.1" fill="#a3a3a3"/><use href="#cf" x="520.8" y="171.6" fill="#e8333b"/><use href="#cf" x="520.7" y="173.2" fill="#a3a3a3"/><use href="#cf" x="523.5" y="177.1" fill="#e8333b"/><use href="#cf" x="523.8" y="177.0" fill="#a3a3a3"/><use href="#cf" x="526.7" y="181.1" fill="#e8333b"/><use href="#cf" x="526.9" y="182.0" fill="#a3a3a3"/><use href="#cf" x="529.3" y="185.1" fill="#e8333b"/><use href="#cf" x="530.1" y="185.7" fill="#a3a3a3"/><use href="#cf" x="532.7" y="188.9" fill="#e8333b"/><use href="#cf" x="533.2" y="188.7" fill="#a3a3a3"/><use href="#cf" x="535.3" y="190.8" fill="#e8333b"/><use href="#cf" x="536.3" y="190.5" fill="#a3a3a3"/><use href="#cf" x="538.3" y="190.4" fill="#e8333b"/><use href="#cf" x="539.4" y="191.1" fill="#a3a3a3"/><use href="#cf" x="542.2" y="189.2" fill="#e8333b"/><use href="#cf" x="542.5" y="191.6" fill="#a3a3a3"/><use href="#cf" x="544.7" y="189.8" fill="#e8333b"/><use href="#cf" x="545.6" y="192.9" fill="#a3a3a3"/><use href="#cf" x="547.8" y="189.6" fill="#e8333b"/><use href="#cf" x="548.7" y="193.3" fill="#a3a3a3"/><use href="#cf" x="551.2" y="190.5" fill="#e8333b"/><use href="#cf" x="551.8" y="193.4" fill="#a3a3a3"/><use href="#cf" x="555.1" y="189.4" fill="#e8333b"/><use href="#cf" x="554.9" y="193.3" fill="#a3a3a3"/><use href="#cf" x="556.9" y="188.1" fill="#e8333b"/><use href="#cf" x="558.0" y="189.9" fill="#a3a3a3"/><use href="#cf" x="560.8" y="185.2" fill="#e8333b"/><use href="#cf" x="561.1" y="187.1" fill="#a3a3a3"/><use href="#cf" x="563.9" y="181.5" fill="#e8333b"/><use href="#cf" x="564.3" y="183.3" fill="#a3a3a3"/><use href="#cf" x="566.8" y="176.9" fill="#e8333b"/><use href="#cf" x="567.4" y="179.9" fill="#a3a3a3"/><use href="#cf" x="569.6" y="172.2" fill="#e8333b"/><use href="#cf" x="570.5" y="173.4" fill="#a3a3a3"/><use href="#cf" x="572.7" y="167.8" fill="#e8333b"/><use href="#cf" x="573.6" y="169.7" fill="#a3a3a3"/><use href="#cf" x="576.1" y="164.5" fill="#e8333b"/><use href="#cf" x="576.7" y="166.2" fill="#a3a3a3"/><use href="#cf" x="578.7" y="158.8" fill="#e8333b"/><use href="#cf" x="579.8" y="160.4" fill="#a3a3a3"/><use href="#cf" x="582.9" y="156.4" fill="#a3a3a3"/><use href="#cf" x="582.9" y="153.7" fill="#e8333b"/><use href="#cf" x="585.4" y="150.2" fill="#e8333b"/><use href="#cf" x="586.0" y="150.9" fill="#a3a3a3"/><use href="#cf" x="589.4" y="144.8" fill="#e8333b"/><use href="#cf" x="589.1" y="147.3" fill="#a3a3a3"/><use href="#cf" x="592.5" y="142.9" fill="#e8333b"/><use href="#cf" x="592.2" y="143.8" fill="#a3a3a3"/><use href="#cf" x="594.4" y="136.4" fill="#e8333b"/><use href="#cf" x="595.4" y="138.9" fill="#a3a3a3"/><use href="#cf" x="597.8" y="135.2" fill="#e8333b"/><use href="#cf" x="598.5" y="135.0" fill="#a3a3a3"/><use href="#cf" x="600.8" y="128.4" fill="#e8333b"/><use href="#cf" x="601.6" y="130.8" fill="#a3a3a3"/><use href="#cf" x="604.9" y="125.8" fill="#e8333b"/><use href="#cf" x="604.7" y="128.5" fill="#a3a3a3"/><use href="#cf" x="607.1" y="122.0" fill="#e8333b"/><use href="#cf" x="607.8" y="125.1" fill="#a3a3a3"/><use href="#cf" x="611.1" y="119.4" fill="#e8333b"/><use href="#cf" x="610.9" y="119.6" fill="#a3a3a3"/><use href="#cf" x="614.0" y="115.6" fill="#e8333b"/><use href="#cf" x="614.0" y="117.4" fill="#a3a3a3"/><use href="#cf" x="616.5" y="110.4" fill="#e8333b"/><use href="#cf" x="617.1" y="111.7" fill="#a3a3a3"/><use href="#cf" x="620.4" y="107.0" fill="#e8333b"/><use href="#cf" x="620.2" y="110.2" fill="#a3a3a3"/><use href="#cf" x="622.7" y="103.2" fill="#e8333b"/><use href="#cf" x="623.4" y="104.8" fill="#a3a3a3"/><use href="#cf" x="626.1" y="98.5" fill="#e8333b"/><use href="#cf" x="626.5" y="102.5" fill="#a3a3a3"/><use href="#cf" x="629.6" y="98.0" fill="#a3a3a3"/><use href="#cf" x="628.6" y="97.0" fill="#e8333b"/><use href="#cf" x="631.9" y="92.4" fill="#e8333b"/><use href="#cf" x="632.7" y="95.0" fill="#a3a3a3"/><use href="#cf" x="635.8" y="92.5" fill="#a3a3a3"/><use href="#cf" x="635.6" y="89.9" fill="#e8333b"/><use href="#cf" x="637.9" y="88.5" fill="#e8333b"/><use href="#cf" x="638.9" y="88.5" fill="#a3a3a3"/><use href="#cf" x="642.2" y="83.7" fill="#e8333b"/><use href="#cf" x="642.0" y="86.6" fill="#a3a3a3"/><use href="#cf" x="644.0" y="80.1" fill="#e8333b"/><use href="#cf" x="645.1" y="83.9" fill="#a3a3a3"/><use href="#cf" x="647.6" y="78.9" fill="#e8333b"/><use href="#cf" x="648.2" y="80.2" fill="#a3a3a3"/><use href="#cf" x="650.4" y="74.3" fill="#e8333b"/><use href="#cf" x="651.3" y="76.2" fill="#a3a3a3"/><use href="#cf" x="654.7" y="73.0" fill="#e8333b"/><use href="#cf" x="654.5" y="74.3" fill="#a3a3a3"/><use href="#cf" x="657.3" y="70.2" fill="#e8333b"/><use href="#cf" x="657.6" y="69.8" fill="#a3a3a3"/><use href="#cf" x="659.9" y="66.4" fill="#e8333b"/><use href="#cf" x="660.7" y="69.3" fill="#a3a3a3"/><use href="#cf" x="663.1" y="63.1" fill="#e8333b"/><use href="#cf" x="663.8" y="64.8" fill="#a3a3a3"/><use href="#cf" x="666.8" y="59.2" fill="#e8333b"/><use href="#cf" x="666.9" y="63.2" fill="#a3a3a3"/>
</g>
<g font-size="13.5" fill="#262626"><text x="421.2" y="226.7" text-anchor="middle">-0.4</text><text x="483.4" y="226.7" text-anchor="middle">-0.2</text><text x="545.6" y="226.7" text-anchor="middle">0</text><text x="607.8" y="226.7" text-anchor="middle">0.2</text><text x="670.0" y="226.7" text-anchor="middle">0.4</text><text x="413.9" y="196.7" text-anchor="end">0</text><text x="413.9" y="143.4" text-anchor="end">0.5</text><text x="413.9" y="90.1" text-anchor="end">1</text><text x="413.9" y="36.8" text-anchor="end">1.5</text></g>
<text x="544.5" y="244.8" font-size="15.5" text-anchor="middle" fill="#262626"><tspan font-style="italic">I</tspan> (nA)</text>
<text transform="translate(386.6,116.2) rotate(-90)" font-size="16" text-anchor="middle" fill="#262626"><tspan font-style="italic">S</tspan> (10<tspan font-size="11" dy="-7">-29</tspan><tspan dy="7"> A</tspan><tspan font-size="11" dy="-7">2</tspan><tspan dy="7">/Hz)</tspan></text>
<g font-size="14" font-style="italic" fill="#111"><text x="600.2" y="44">DS</text><text x="600.2" y="60">noise</text><text x="625.2" y="133.1">US</text><text x="625" y="149.4">noise</text></g>
<text x="82" y="275" font-size="17" font-weight="bold">c</text>
<path d="M98.6,282.3 L631.4,282.3 M98.6,468.8 L631.4,468.8" stroke="#262626" stroke-width="1.3"/>
<path d="M98.6,468.8 L98.6,463.8 M98.6,282.3 L98.6,287.3 M177.0,468.8 L177.0,463.8 M177.0,282.3 L177.0,287.3 M255.3,468.8 L255.3,463.8 M255.3,282.3 L255.3,287.3 M333.7,468.8 L333.7,463.8 M333.7,282.3 L333.7,287.3 M412.0,468.8 L412.0,463.8 M412.0,282.3 L412.0,287.3 M490.4,468.8 L490.4,463.8 M490.4,282.3 L490.4,287.3 M568.7,468.8 L568.7,463.8 M568.7,282.3 L568.7,287.3" stroke="#262626" stroke-width="1.3"/>
<path d="M98.6,282.3 L98.6,468.8 M98.6,468.8 L103.6,468.8 M98.6,391.1 L103.6,391.1 M98.6,313.4 L103.6,313.4" stroke="#0072bd" stroke-width="1.5"/>
<path d="M631.4,282.3 L631.4,468.8 M631.4,468.8 L626.4,468.8 M631.4,391.1 L626.4,391.1 M631.4,313.4 L626.4,313.4" stroke="#a2142f" stroke-width="1.5"/>
<path d="M98.6,313.4 L631.4,313.4" stroke="#0072bd" stroke-width="1.5" stroke-dasharray="10.3,6.08"/>
<path d="M122.1,312.5 L122.1,323.2 M118.2,312.5 L126.0,312.5 M118.2,323.2 L126.0,323.2 M122.1,314.0 L122.1,325.6 M118.2,314.0 L126.0,314.0 M118.2,325.6 L126.0,325.6 M137.8,289.5 L137.8,307.9 M133.9,289.5 L141.7,289.5 M133.9,307.9 L141.7,307.9 M137.8,307.0 L137.8,319.1 M133.9,307.0 L141.7,307.0 M133.9,319.1 L141.7,319.1 M153.4,293.5 L153.4,315.0 M149.5,293.5 L157.3,293.5 M149.5,315.0 L157.3,315.0 M153.4,304.4 L153.4,313.2 M149.5,304.4 L157.3,304.4 M149.5,313.2 L157.3,313.2 M153.4,302.6 L153.4,326.8 M149.5,302.6 L157.3,302.6 M149.5,326.8 L157.3,326.8 M169.1,308.0 L169.1,322.6 M165.2,308.0 L173.0,308.0 M165.2,322.6 L173.0,322.6 M169.1,308.0 L169.1,318.0 M165.2,308.0 L173.0,308.0 M165.2,318.0 L173.0,318.0 M184.8,305.6 L184.8,315.0 M180.9,305.6 L188.7,305.6 M180.9,315.0 L188.7,315.0 M184.8,309.0 L184.8,319.0 M180.9,309.0 L188.7,309.0 M180.9,319.0 L188.7,319.0 M184.8,310.0 L184.8,322.6 M180.9,310.0 L188.7,310.0 M180.9,322.6 L188.7,322.6 M200.5,302.1 L200.5,313.5 M196.6,302.1 L204.4,302.1 M196.6,313.5 L204.4,313.5 M200.5,306.0 L200.5,315.0 M196.6,306.0 L204.4,306.0 M196.6,315.0 L204.4,315.0 M216.1,294.7 L216.1,312.0 M212.2,294.7 L220.0,294.7 M212.2,312.0 L220.0,312.0 M216.1,300.9 L216.1,321.2 M212.2,300.9 L220.0,300.9 M212.2,321.2 L220.0,321.2 M231.8,307.6 L231.8,317.0 M227.9,307.6 L235.7,307.6 M227.9,317.0 L235.7,317.0 M231.8,311.0 L231.8,326.8 M227.9,311.0 L235.7,311.0 M227.9,326.8 L235.7,326.8 M278.8,283.9 L278.8,309.1 M274.9,283.9 L282.7,283.9 M274.9,309.1 L282.7,309.1 M278.8,309.1 L278.8,317.1 M274.9,309.1 L282.7,309.1 M274.9,317.1 L282.7,317.1 M341.5,302.6 L341.5,322.0 M337.6,302.6 L345.4,302.6 M337.6,322.0 L345.4,322.0 M341.5,313.0 L341.5,327.5 M337.6,313.0 L345.4,313.0 M337.6,327.5 L345.4,327.5 M404.2,292.9 L404.2,316.2 M400.3,292.9 L408.1,292.9 M400.3,316.2 L408.1,316.2 M404.2,300.9 L404.2,318.4 M400.3,300.9 L408.1,300.9 M400.3,318.4 L408.1,318.4 M466.9,294.0 L466.9,323.1 M463.0,294.0 L470.8,294.0 M463.0,323.1 L470.8,323.1 M466.9,312.0 L466.9,328.5 M463.0,312.0 L470.8,312.0 M463.0,328.5 L470.8,328.5 M529.5,306.5 L529.5,322.8 M525.6,306.5 L533.4,306.5 M525.6,322.8 L533.4,322.8 M529.5,308.0 L529.5,321.0 M525.6,308.0 L533.4,308.0 M525.6,321.0 L533.4,321.0 M592.2,306.5 L592.2,321.8 M588.3,306.5 L596.1,306.5 M588.3,321.8 L596.1,321.8 M592.2,311.0 L592.2,323.2 M588.3,311.0 L596.1,311.0 M588.3,323.2 L596.1,323.2" stroke="#0072bd" stroke-width="1.3" fill="none"/><path d="M122.1,313.2 L125.4,319.2 L118.8,319.2 Z" fill="#0072bd"/><rect x="119.6" y="316.5" width="5" height="5" fill="#0072bd"/><path d="M137.8,294.3 L141.1,300.3 L134.5,300.3 Z" fill="#0072bd"/><rect x="135.3" y="310.0" width="5" height="5" fill="#0072bd"/><rect x="150.9" y="303.5" width="5" height="5" fill="#0072bd"/><rect x="150.9" y="306.5" width="5" height="5" fill="#0072bd"/><path d="M153.4,316.1 L156.7,322.1 L150.1,322.1 Z" fill="#0072bd"/><rect x="166.6" y="312.5" width="5" height="5" fill="#0072bd"/><circle cx="169.1" cy="313.0" r="2.6" fill="#0072bd"/><circle cx="184.8" cy="310.5" r="2.6" fill="#0072bd"/><path d="M184.8,310.4 L188.1,316.4 L181.5,316.4 Z" fill="#0072bd"/><rect x="182.3" y="313.5" width="5" height="5" fill="#0072bd"/><path d="M200.5,304.4 L203.8,310.4 L197.2,310.4 Z" fill="#0072bd"/><rect x="198.0" y="309.0" width="5" height="5" fill="#0072bd"/><path d="M216.1,302.6 L219.4,308.6 L212.8,308.6 Z" fill="#0072bd"/><path d="M216.1,308.8 L219.4,314.8 L212.8,314.8 Z" fill="#0072bd"/><rect x="229.3" y="309.5" width="5" height="5" fill="#0072bd"/><circle cx="231.8" cy="316.0" r="2.6" fill="#0072bd"/><path d="M278.8,294.7 L282.1,300.7 L275.5,300.7 Z" fill="#0072bd"/><rect x="276.3" y="310.9" width="5" height="5" fill="#0072bd"/><path d="M341.5,310.9 L344.8,316.9 L338.2,316.9 Z" fill="#0072bd"/><rect x="339.0" y="317.4" width="5" height="5" fill="#0072bd"/><path d="M404.2,301.9 L407.5,307.9 L400.9,307.9 Z" fill="#0072bd"/><rect x="401.7" y="305.5" width="5" height="5" fill="#0072bd"/><path d="M466.9,304.4 L470.2,310.4 L463.6,310.4 Z" fill="#0072bd"/><rect x="464.4" y="315.2" width="5" height="5" fill="#0072bd"/><path d="M529.5,310.4 L532.8,316.4 L526.2,316.4 Z" fill="#0072bd"/><circle cx="529.5" cy="315.0" r="2.6" fill="#0072bd"/><path d="M592.2,309.4 L595.5,315.4 L588.9,315.4 Z" fill="#0072bd"/><rect x="589.7" y="314.5" width="5" height="5" fill="#0072bd"/>
<path d="M122.1,306.8 L122.1,319.7 M118.2,306.8 L126.0,306.8 M118.2,319.7 L126.0,319.7 M137.8,311.5 L137.8,322.6 M133.9,311.5 L141.7,311.5 M133.9,322.6 L141.7,322.6 M153.4,325.0 L153.4,336.0 M149.5,325.0 L157.3,325.0 M149.5,336.0 L157.3,336.0 M153.4,333.0 L153.4,349.0 M149.5,333.0 L157.3,333.0 M149.5,349.0 L157.3,349.0 M153.4,343.0 L153.4,352.6 M149.5,343.0 L157.3,343.0 M149.5,352.6 L157.3,352.6 M153.4,371.2 L153.4,388.0 M149.5,371.2 L157.3,371.2 M149.5,388.0 L157.3,388.0 M169.1,319.7 L169.1,328.0 M165.2,319.7 L173.0,319.7 M165.2,328.0 L173.0,328.0 M169.1,335.0 L169.1,344.7 M165.2,335.0 L173.0,335.0 M165.2,344.7 L173.0,344.7 M184.8,337.6 L184.8,348.2 M180.9,337.6 L188.7,337.6 M180.9,348.2 L188.7,348.2 M184.8,363.2 L184.8,375.6 M180.9,363.2 L188.7,363.2 M180.9,375.6 L188.7,375.6 M200.5,338.5 L200.5,350.9 M196.6,338.5 L204.4,338.5 M196.6,350.9 L204.4,350.9 M200.5,361.5 L200.5,372.6 M196.6,361.5 L204.4,361.5 M196.6,372.6 L204.4,372.6 M216.1,344.0 L216.1,356.2 M212.2,344.0 L220.0,344.0 M212.2,356.2 L220.0,356.2 M216.1,342.0 L216.1,355.0 M212.2,342.0 L220.0,342.0 M212.2,355.0 L220.0,355.0 M216.1,372.0 L216.1,382.6 M212.2,372.0 L220.0,372.0 M212.2,382.6 L220.0,382.6 M216.1,391.5 L216.1,404.7 M212.2,391.5 L220.0,391.5 M212.2,404.7 L220.0,404.7 M231.8,338.0 L231.8,348.9 M227.9,338.0 L235.7,338.0 M227.9,348.9 L235.7,348.9 M231.8,367.6 L231.8,379.0 M227.9,367.6 L235.7,367.6 M227.9,379.0 L235.7,379.0 M278.8,375.7 L278.8,392.6 M274.9,375.7 L282.7,375.7 M274.9,392.6 L282.7,392.6 M278.8,412.2 L278.8,426.4 M274.9,412.2 L282.7,412.2 M274.9,426.4 L282.7,426.4 M341.5,369.5 L341.5,388.1 M337.6,369.5 L345.4,369.5 M337.6,388.1 L345.4,388.1 M341.5,414.5 L341.5,427.7 M337.6,414.5 L345.4,414.5 M337.6,427.7 L345.4,427.7 M404.2,414.6 L404.2,435.1 M400.3,414.6 L408.1,414.6 M400.3,435.1 L408.1,435.1 M404.2,436.0 L404.2,448.4 M400.3,436.0 L408.1,436.0 M400.3,448.4 L408.1,448.4 M466.9,420.5 L466.9,433.2 M463.0,420.5 L470.8,420.5 M463.0,433.2 L470.8,433.2 M466.9,436.4 L466.9,451.2 M463.0,436.4 L470.8,436.4 M463.0,451.2 L470.8,451.2 M529.5,427.5 L529.5,441.0 M525.6,427.5 L533.4,427.5 M525.6,441.0 L533.4,441.0 M529.5,431.0 L529.5,444.0 M525.6,431.0 L533.4,431.0 M525.6,444.0 L533.4,444.0 M592.2,431.3 L592.2,446.0 M588.3,431.3 L596.1,431.3 M588.3,446.0 L596.1,446.0 M592.2,436.0 L592.2,451.2 M588.3,436.0 L596.1,436.0 M588.3,451.2 L596.1,451.2" stroke="#a2142f" stroke-width="1.3" fill="none"/><circle cx="122.1" cy="313.2" r="2.6" fill="#a2142f"/><rect x="135.3" y="311.9" width="5" height="5" fill="#a2142f"/><circle cx="153.4" cy="330.5" r="2.4" fill="#fff" stroke="#a2142f" stroke-width="1.2"/><path d="M153.4,328.1 L153.4,332.9" stroke="#a2142f" stroke-width="1.2"/><rect x="150.9" y="340.5" width="5" height="5" fill="#a2142f"/><path d="M153.4,345.5 L156.7,351.5 L150.1,351.5 Z" fill="#a2142f"/><path d="M153.4,375.5 L156.7,381.5 L150.1,381.5 Z" fill="#a2142f"/><circle cx="169.1" cy="323.5" r="2.4" fill="#fff" stroke="#a2142f" stroke-width="1.2"/><path d="M169.1,321.1 L169.1,325.9" stroke="#a2142f" stroke-width="1.2"/><path d="M169.1,335.8 L172.4,341.8 L165.8,341.8 Z" fill="#a2142f"/><circle cx="184.8" cy="342.9" r="2.4" fill="#fff" stroke="#a2142f" stroke-width="1.2"/><path d="M184.8,340.5 L184.8,345.3" stroke="#a2142f" stroke-width="1.2"/><path d="M184.8,365.8 L188.1,371.8 L181.5,371.8 Z" fill="#a2142f"/><circle cx="200.5" cy="344.7" r="2.4" fill="#fff" stroke="#a2142f" stroke-width="1.2"/><path d="M200.5,342.3 L200.5,347.1" stroke="#a2142f" stroke-width="1.2"/><path d="M200.5,363.2 L203.8,369.2 L197.2,369.2 Z" fill="#a2142f"/><circle cx="216.1" cy="352.5" r="2.4" fill="#fff" stroke="#a2142f" stroke-width="1.2"/><path d="M216.1,350.1 L216.1,354.9" stroke="#a2142f" stroke-width="1.2"/><path d="M216.1,345.2 L219.4,351.2 L212.8,351.2 Z" fill="#a2142f"/><path d="M216.1,373.7 L219.4,379.7 L212.8,379.7 Z" fill="#a2142f"/><path d="M216.1,394.0 L219.4,400.0 L212.8,400.0 Z" fill="#a2142f"/><circle cx="231.8" cy="343.2" r="2.4" fill="#fff" stroke="#a2142f" stroke-width="1.2"/><path d="M231.8,340.8 L231.8,345.6" stroke="#a2142f" stroke-width="1.2"/><path d="M231.8,368.7 L235.1,374.7 L228.5,374.7 Z" fill="#a2142f"/><circle cx="278.8" cy="384.3" r="2.6" fill="#a2142f"/><path d="M278.8,415.2 L282.1,421.2 L275.5,421.2 Z" fill="#a2142f"/><circle cx="341.5" cy="379.0" r="2.6" fill="#a2142f"/><path d="M341.5,417.1 L344.8,423.1 L338.2,423.1 Z" fill="#a2142f"/><circle cx="404.2" cy="425.0" r="2.6" fill="#a2142f"/><path d="M404.2,438.5 L407.5,444.5 L400.9,444.5 Z" fill="#a2142f"/><circle cx="466.9" cy="427.0" r="2.6" fill="#a2142f"/><path d="M466.9,440.4 L470.2,446.4 L463.6,446.4 Z" fill="#a2142f"/><circle cx="529.5" cy="435.1" r="2.6" fill="#a2142f"/><path d="M529.5,433.4 L532.8,439.4 L526.2,439.4 Z" fill="#a2142f"/><circle cx="592.2" cy="438.9" r="2.6" fill="#a2142f"/><path d="M592.2,439.1 L595.5,445.1 L588.9,445.1 Z" fill="#a2142f"/>
<g font-size="13.5" fill="#262626"><text x="98.6" y="487.6" text-anchor="middle">0</text><text x="177.0" y="487.6" text-anchor="middle">50</text><text x="255.3" y="487.6" text-anchor="middle">100</text><text x="333.7" y="487.6" text-anchor="middle">150</text><text x="412.0" y="487.6" text-anchor="middle">200</text><text x="490.4" y="487.6" text-anchor="middle">250</text><text x="568.7" y="487.6" text-anchor="middle">300</text></g>
<g font-size="13.5" fill="#0072bd" text-anchor="end"><text x="92" y="473.6">0</text><text x="92" y="395.9">0.5</text><text x="92" y="318.2">1</text></g>
<g font-size="13.5" fill="#a2142f"><text x="637.4" y="473.6">0</text><text x="637.4" y="395.9">0.5</text><text x="637.4" y="318.2">1</text></g>
<text x="365.6" y="506.7" font-size="15.6" text-anchor="middle" fill="#262626"><tspan font-style="italic">L</tspan> (<tspan font-family="Liberation Serif" font-style="italic">μ</tspan>m)</text>
<text transform="translate(678,387.5) rotate(-90)" font-size="15" text-anchor="middle" fill="#a2142f">S<tspan font-size="10.5" dy="-7">U</tspan><tspan dy="7"> / S</tspan><tspan font-size="10.5" dy="-7">U</tspan><tspan font-size="10.5" dy="12.5" dx="-7">max</tspan></text>
<g transform="translate(64.5,375) rotate(-90)" fill="#0072bd" font-family="Liberation Serif" font-style="italic" font-size="15"><text x="-12.6" y="-0.3">κ</text><path d="M-3.6,3.3 L2.7,-12.4" stroke="#0072bd" stroke-width="0.9"/><text x="3.5" y="-0.3">κ</text><path d="M3.1,-9.9 L12.1,-9.9" stroke="#0072bd" stroke-width="0.9"/></g>
</svg></body></html>
